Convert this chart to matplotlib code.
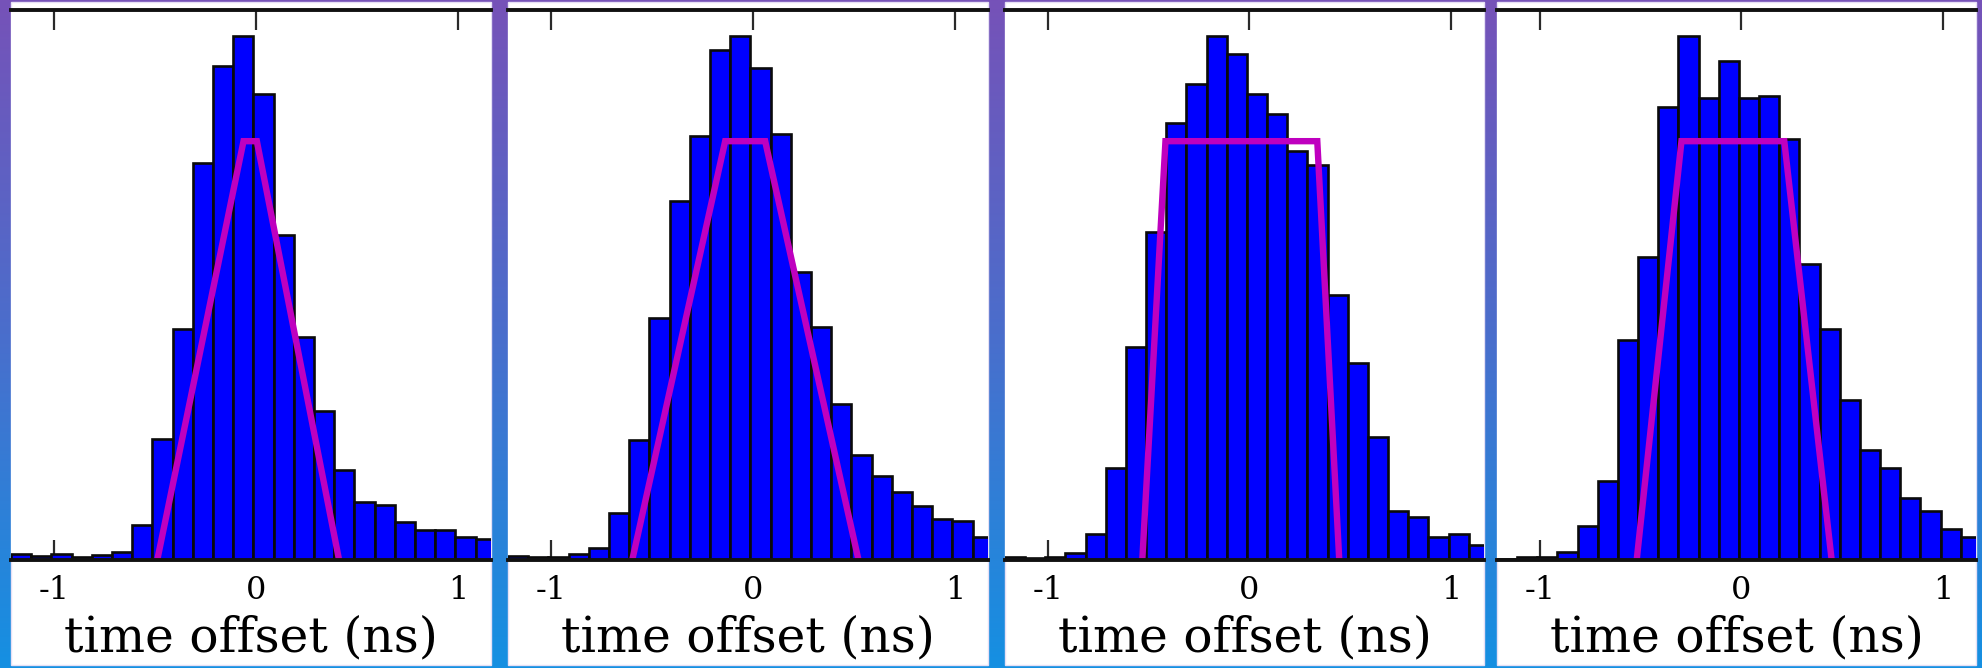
import numpy as np
import matplotlib
matplotlib.use('Agg')
import matplotlib.pyplot as plt
from matplotlib.patches import Rectangle
from matplotlib.colors import LinearSegmentedColormap

plt.rcParams['font.family'] = ['DejaVu Serif']
plt.rcParams['axes.unicode_minus'] = False

# ---------------- data ----------------
bin_start = -1.212       # ns, left edge of first bin
bin_width = 0.1          # ns
x_limits = (-1.212, 1.164)
tick_values = [-1, 0, 1]
tick_labels = ['-1', '0', '1']
x_label = 'time offset (ns)'

# histogram heights (percent of peak)
counts_1 = [1.2, 0.8, 1.2, 0.5, 0.9, 1.6, 6.7, 23.1, 44.2, 75.8, 94.4, 100.0,
            89.1, 62.0, 42.6, 28.4, 17.1, 11.1, 10.5, 7.2, 5.8, 5.8, 4.4, 4.0]
counts_2 = [0.7, 0.5, 0.6, 1.1, 2.2, 8.9, 23.0, 46.2, 68.5, 80.9, 97.5, 100.0,
            94.0, 81.3, 55.1, 44.6, 29.8, 20.0, 16.0, 12.9, 10.3, 7.9, 7.5, 4.4]
counts_3 = [0.5, 0.3, 0.5, 1.3, 5.0, 17.6, 40.7, 62.6, 83.5, 91.0, 100.0, 96.6,
            89.0, 85.2, 78.1, 75.4, 50.6, 37.6, 23.4, 9.3, 8.3, 4.4, 5.0, 2.9]
counts_4 = [0.2, 0.5, 0.5, 1.6, 6.5, 15.1, 42.0, 57.9, 86.5, 100.0, 88.3, 95.4,
            88.3, 88.7, 80.4, 56.5, 44.1, 30.6, 21.0, 17.6, 11.9, 9.4, 5.9, 4.4]

# trapezoid overlays (x in ns, y in percent of peak)
trap_x_1 = [-0.488, -0.061, 0.005, 0.412]
trap_x_2 = [-0.597, -0.137, 0.061, 0.523]
trap_x_3 = [-0.531, -0.416, 0.337, 0.446]
trap_x_4 = [-0.519, -0.297, 0.213, 0.448]
trap_y = [0, 80, 80, 0]

y_top = 105.15

# ---------------- figure ----------------
W, H = 1982, 668
fig = plt.figure(figsize=(W / 100, H / 100), dpi=100)

# gradient background
bg = fig.add_axes([0, 0, 1, 1], zorder=-3)
cmap = LinearSegmentedColormap.from_list('bg', ['#7652B8', '#4A6ECC', '#1590E2'])
grad = np.linspace(0, 1, 256).reshape(-1, 1)
bg.imshow(grad, cmap=cmap, aspect='auto', extent=[0, 1, 0, 1], origin='upper')
bg.set_axis_off()

panels = [(11, 491), (508, 988), (1005, 1484), (1497, 1976)]
ax_top_px, ax_bot_px = 9.5, 560
panel_top_px, panel_bot_px = 2, 665

datasets = [(counts_1, trap_x_1), (counts_2, trap_x_2),
            (counts_3, trap_x_3), (counts_4, trap_x_4)]

for (l, r), (counts, tx) in zip(panels, datasets):
    # white panel
    fig.add_artist(Rectangle((l / W, 1 - panel_bot_px / H), (r - l) / W,
                             (panel_bot_px - panel_top_px) / H,
                             transform=fig.transFigure, facecolor='white',
                             edgecolor='#E6E0F5', linewidth=1.0, zorder=-2))
    ax = fig.add_axes([l / W, 1 - ax_bot_px / H, (r - l) / W,
                       (ax_bot_px - ax_top_px) / H])
    ax.set_facecolor('white')
    edges = bin_start + bin_width * np.arange(len(counts))
    ax.bar(edges, counts, width=bin_width, align='edge', color='#0000FF',
           edgecolor='#0A0A0A', linewidth=1.9, zorder=1)
    ax.plot(tx, trap_y, color='#BF00BF', linewidth=4.6,
            solid_capstyle='butt', solid_joinstyle='miter', zorder=2)
    ax.set_xlim(*x_limits)
    ax.set_ylim(0, y_top)
    ax.set_yticks([])
    ax.set_xticks(tick_values)
    ax.set_xticklabels(tick_labels)
    ax.set_axisbelow(True)
    ax.tick_params(axis='x', which='both', direction='in', length=14.5,
                   width=1.6, color='#2A2A2A', top=True, bottom=True,
                   labeltop=False, labelbottom=True, labelsize=23, pad=11)
    for s in ('left', 'right'):
        ax.spines[s].set_visible(False)
    ax.spines['top'].set_linewidth(2.8)
    ax.spines['top'].set_color('#111111')
    ax.spines['bottom'].set_linewidth(2.8)
    ax.spines['bottom'].set_color('#111111')
    ax.set_xlabel(x_label, fontsize=35, labelpad=6)

fig.savefig('out.png', dpi=100)
